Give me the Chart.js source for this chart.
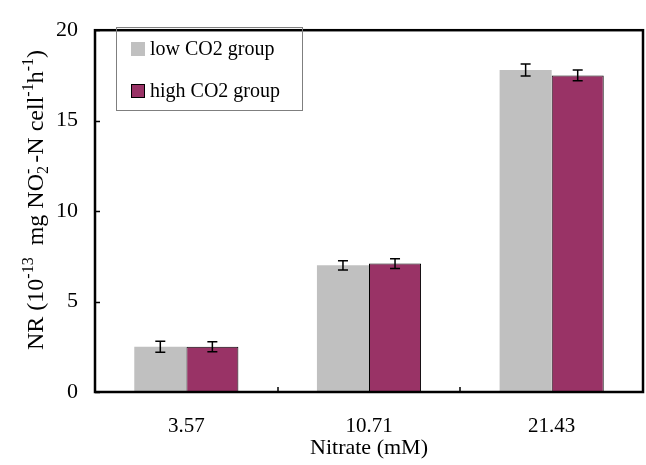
<!DOCTYPE html>
<html>
<head>
<meta charset="utf-8">
<script src="https://cdn.jsdelivr.net/npm/chart.js@4.4.1/dist/chart.umd.min.js"></script>
<style>
  html, body { margin: 0; padding: 0; background: #fff; }
  #wrap { width: 646px; height: 465px; }
</style>
</head>
<body>
<div id="wrap"><canvas id="c" width="646" height="465"></canvas></div>
<script>
// Nitrate concentrations (mM)
const categories = ['3.57', '10.71', '21.43'];
// Nitrate reductase rate, 10^-13 mg NO2^- -N per cell per hour
const lowCO2 = [2.5, 7.0, 17.8];
const lowCO2Err = [0.3, 0.26, 0.33];
const highCO2 = [2.5, 7.1, 17.5];
const highCO2Err = [0.28, 0.27, 0.3];
const seriesNames = ['low CO2 group', 'high CO2 group'];
const yTicks = [0, 5, 10, 15, 20];

const SERIF = '"Liberation Serif", "Times New Roman", serif';

// Frame, inward ticks, error bars, legend and rotated y title
const decorations = {
  id: 'decorations',
  afterDatasetsDraw(chart) {
    const ctx = chart.ctx;
    const a = chart.chartArea;
    const y = chart.scales.y;
    const x = chart.scales.x;
    ctx.save();

    // error bars
    const errs = [lowCO2Err, highCO2Err];
    chart.data.datasets.forEach((ds, di) => {
      const meta = chart.getDatasetMeta(di);
      meta.data.forEach((bar, i) => {
        const v = ds.data[i], e = errs[di][i];
        const yt = y.getPixelForValue(v + e);
        const yb = y.getPixelForValue(v - e);
        ctx.strokeStyle = '#000';
        ctx.lineWidth = 1.5;
        ctx.beginPath();
        ctx.moveTo(bar.x, yt); ctx.lineTo(bar.x, yb);
        ctx.moveTo(bar.x - 5, yt); ctx.lineTo(bar.x + 5, yt);
        ctx.moveTo(bar.x - 5, yb); ctx.lineTo(bar.x + 5, yb);
        ctx.stroke();
      });
    });

    // inward ticks
    ctx.strokeStyle = '#000';
    ctx.lineWidth = 1.5;
    ctx.beginPath();
    yTicks.forEach(t => {
      const py = Math.round(y.getPixelForValue(t)) + 0.5;
      ctx.moveTo(a.left, py); ctx.lineTo(a.left + 5, py);
    });
    for (let i = 1; i < categories.length; i++) {
      const px = Math.round((x.getPixelForValue(i - 1) + x.getPixelForValue(i)) / 2);
      ctx.moveTo(px, a.bottom); ctx.lineTo(px, a.bottom - 5);
    }
    ctx.stroke();

    // plot frame
    ctx.lineWidth = 2.5;
    ctx.strokeRect(a.left, a.top, a.right - a.left, a.bottom - a.top);

    // legend
    ctx.lineWidth = 1;
    ctx.strokeStyle = '#7f7f7f';
    ctx.strokeRect(116.5, 27.5, 186, 83);
    ctx.font = '20px ' + SERIF;
    ctx.textBaseline = 'middle';
    ctx.textAlign = 'left';
    chart.data.datasets.forEach((ds, di) => {
      const cy = 49 + di * 42;
      ctx.fillStyle = ds.backgroundColor;
      ctx.fillRect(131, cy - 7, 14, 14);
      if (ds.borderWidth) {
        ctx.strokeStyle = '#000';
        ctx.strokeRect(131.5, cy - 6.5, 13, 13);
      }
      ctx.fillStyle = '#000';
      ctx.fillText(ds.label, 150, cy + 1);
    });

    // y-axis title with super/subscripts
    const parts = [
      ['NR (10', 0], ['-13', 1], ['  mg NO', 0], ['2', -1], ['-', 1],
      [' -N cell', 0], ['-1', 1], ['h', 0], ['-1', 1], [')', 0]
    ];
    const big = '24px ' + SERIF, small = '16px ' + SERIF;
    let total = 0;
    parts.forEach(p => {
      ctx.font = p[1] ? small : big;
      if (!(p[0] === '2' && p[1] === -1)) total += ctx.measureText(p[0]).width;
    });
    ctx.translate(35, 200);
    ctx.rotate(-Math.PI / 2);
    ctx.fillStyle = '#000';
    ctx.textBaseline = 'alphabetic';
    let cx = -total / 2;
    parts.forEach(p => {
      ctx.font = p[1] ? small : big;
      const dy = p[1] === 1 ? -10 : (p[1] === -1 ? 5 : 0);
      ctx.fillText(p[0], cx, 8 + dy);
      let w = ctx.measureText(p[0]).width;
      // superscript minus sits above subscript 2
      if (p[0] === '2' && p[1] === -1) w = 0;
      cx += w;
    });
    ctx.restore();
  }
};

new Chart(document.getElementById('c'), {
  type: 'bar',
  data: {
    labels: categories,
    datasets: [
      { label: seriesNames[0], data: lowCO2, backgroundColor: '#C0C0C0', borderWidth: 0 },
      { label: seriesNames[1], data: highCO2, backgroundColor: '#993366', borderColor: '#000', borderWidth: 1 }
    ]
  },
  options: {
    responsive: false,
    animation: false,
    devicePixelRatio: 1,
    layout: { padding: { top: 17, right: 3, left: 0, bottom: 0 } },
    datasets: { bar: { categoryPercentage: 0.57, barPercentage: 1.0 } },
    plugins: { legend: { display: false }, tooltip: { enabled: false } },
    scales: {
      x: {
        grid: { display: false, drawTicks: false },
        border: { display: false },
        ticks: { color: '#000', font: { family: SERIF, size: 21 }, padding: 22 },
        title: { display: true, text: 'Nitrate (mM)', color: '#000', font: { family: SERIF, size: 22 }, padding: { top: 0 } },
        afterFit: s => { s.height = 73; }
      },
      y: {
        min: 0, max: 20,
        grid: { display: false, drawTicks: false },
        border: { display: false },
        ticks: { stepSize: 5, color: '#000', font: { family: SERIF, size: 22 }, padding: 17 },
        afterFit: s => { s.width = 95; }
      }
    }
  },
  plugins: [decorations]
});
</script>
</body>
</html>
